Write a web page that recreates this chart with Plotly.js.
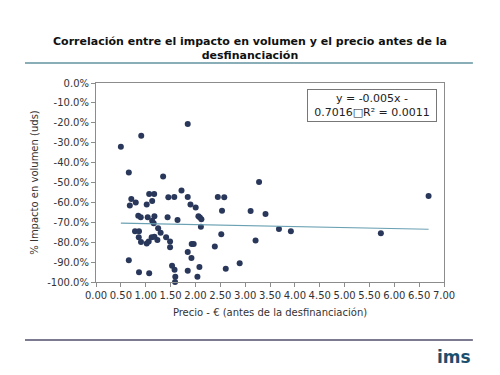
<!DOCTYPE html>
<html>
<head>
<meta charset="utf-8">
<script src="https://cdn.plot.ly/plotly-3.0.1.min.js"></script>
<style>html,body{margin:0;padding:0;background:#fff;}#chart{width:500px;height:375px;}</style>
</head>
<body>
<div id="chart"></div>
<script>
// Data: price (€) and volume impact (%)
const price = [1.845,0.91,0.50,0.66,1.35,1.72,1.07,1.17,0.71,0.80,0.68,1.02,1.13,1.455,1.575,1.845,1.90,2.005,2.45,2.58,2.535,0.85,0.90,1.04,1.175,1.13,1.16,1.44,1.64,2.06,2.09,2.12,2.11,1.25,1.30,0.785,0.865,0.86,0.905,1.02,1.06,1.12,1.175,1.235,1.41,1.49,1.49,1.925,1.965,2.39,2.52,1.845,1.92,0.66,1.53,1.58,2.08,0.865,1.07,1.845,1.595,2.04,1.59,2.61,2.89,3.28,3.11,3.41,3.68,3.92,5.73,6.69,3.21];
const impact = [-20.6,-26.5,-32,-45,-47,-54,-55.8,-55.8,-58.3,-60,-61.6,-61.1,-59.3,-57.4,-57.3,-57.3,-61,-62.6,-57.3,-57.4,-64.2,-66.7,-67.5,-67.5,-67,-69.2,-70.5,-67.5,-68.8,-67,-67.6,-68.5,-72.2,-73,-75.2,-74.5,-74.5,-77.5,-79.9,-80.7,-79.7,-77.5,-77.2,-78.9,-77.5,-79.7,-82.6,-80.9,-80.9,-82.1,-76,-84.9,-87.9,-89.1,-91.8,-93.8,-92.5,-95.1,-95.6,-94.3,-97.3,-97.3,-100,-93.3,-90.6,-49.7,-64.3,-65.8,-73.4,-74.5,-75.5,-56.8,-79.2];
// Linear trend from the chart's equation
const trendSlope = -0.005;
const trendIntercept = -0.7016;
// Tick labels
const xTickVals = [0,0.5,1,1.5,2,2.5,3,3.5,4,4.5,5,5.5,6,6.5,7];
const xTickText = ["0.00","0.50","1.00","1.50","2.00","2.50","3.00","3.50","4.00","4.50","5.00","5.50","6.00","6.50","7.00"];
const yTickVals = [0,-10,-20,-30,-40,-50,-60,-70,-80,-90,-100];
const yTickText = ["0.0%","-10.0%","-20.0%","-30.0%","-40.0%","-50.0%","-60.0%","-70.0%","-80.0%","-90.0%","-100.0%"];

const xMin = Math.min(...price), xMax = Math.max(...price);
const trendX = [xMin, xMax];
const trendY = trendX.map(x => (trendSlope * x + trendIntercept) * 100);

const font = "DejaVu Sans, Verdana, sans-serif";

const data = [
  {x: price, y: impact, type: 'scatter', mode: 'markers',
   marker: {color: '#29375a', size: 6}, hoverinfo: 'skip', cliponaxis: false},
  {x: trendX, y: trendY, type: 'scatter', mode: 'lines',
   line: {color: '#6aa1b3', width: 1.2}, hoverinfo: 'skip'}
];

const layout = {
  width: 500, height: 375,
  margin: {l: 96, r: 56, t: 83, b: 93},
  paper_bgcolor: '#ffffff', plot_bgcolor: '#ffffff',
  showlegend: false,
  font: {family: font, size: 10, color: '#333333'},
  title: {text: 'Correlación entre el impacto en volumen y el precio antes de la<br>desfinanciación',
          font: {family: font, size: 11, color: '#111111', weight: 'bold'},
          x: 0.5, xanchor: 'center', y: 0.88, yanchor: 'middle', yref: 'container'},
  xaxis: {range: [0, 7], tickvals: xTickVals, ticktext: xTickText,
          showgrid: false, zeroline: false, showline: true, linecolor: '#8c8c8c', linewidth: 1,
          mirror: true, ticks: 'outside', ticklen: 4, tickcolor: '#8c8c8c',
          tickfont: {family: font, size: 10, color: '#333'},
          title: {text: 'Precio - € (antes de la desfinanciación)', font: {family: font, size: 10, color: '#333'}, standoff: 8}},
  yaxis: {range: [-100, 0], tickvals: yTickVals, ticktext: yTickText,
          showgrid: false, zeroline: false, showline: true, linecolor: '#8c8c8c', linewidth: 1,
          mirror: true, ticks: 'outside', ticklen: 4, tickcolor: '#8c8c8c',
          tickfont: {family: font, size: 10, color: '#333'},
          title: {text: '% Impacto en volumen (uds)', font: {family: font, size: 10, color: '#333'}, standoff: 6}},
  shapes: [
    {type: 'line', xref: 'paper', yref: 'paper', x0: -0.204, x1: 1.083, y0: 1.1005, y1: 1.1005,
     line: {color: '#8aaeb8', width: 2}},
    {type: 'line', xref: 'paper', yref: 'paper', x0: -0.204, x1: 1.083, y0: -0.2915, y1: -0.2915,
     line: {color: '#7c7a90', width: 2}}
  ],
  annotations: [
    {xref: 'paper', yref: 'paper', x: 0.793, y: 0.887, xanchor: 'center', yanchor: 'middle',
     text: 'y = -0.005x -<br>0.7016\u25A1R² = 0.0011', showarrow: false,
     font: {family: font, size: 11, color: '#222'}, align: 'center',
     bordercolor: '#777', borderwidth: 1, borderpad: 2, bgcolor: '#fff', width: 124},
    {xref: 'paper', yref: 'paper', x: 1.083, y: -0.375, xanchor: 'right', yanchor: 'middle',
     text: '<b>ims</b>', showarrow: false,
     font: {family: font, size: 17, color: '#1c4f6e'}}
  ]
};

Plotly.newPlot('chart', data, layout, {staticPlot: true, displayModeBar: false});
</script>
</body>
</html>
